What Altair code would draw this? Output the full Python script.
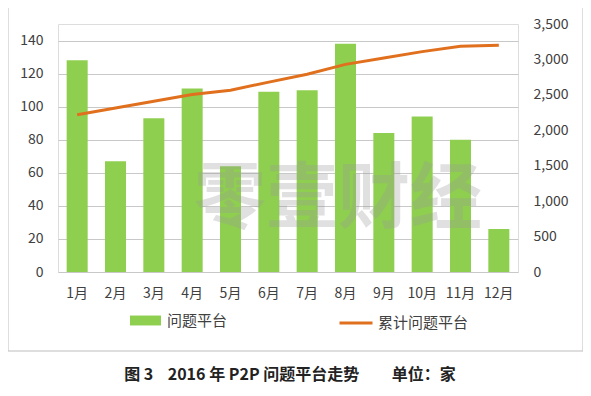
import altair as alt
import pandas as pd

months = ["1月", "2月", "3月", "4月", "5月", "6月", "7月", "8月", "9月", "10月", "11月", "12月"]
platforms = [128, 67, 93, 111, 64, 109, 110, 138, 84, 94, 80, 26]
cumulative = [2220, 2315, 2410, 2505, 2565, 2680, 2790, 2930, 3020, 3110, 3185, 3200]
left_ticks = [0, 20, 40, 60, 80, 100, 120, 140]
right_ticks = [0, 500, 1000, 1500, 2000, 2500, 3000, 3500]
bar_name = "问题平台"
line_name = "累计问题平台"
NB = "\u00a0"
caption = "图 3" + NB * 4 + "2016 年 P2P 问题平台走势" + NB * 9 + "单位：家"
watermark = "零壹财经"

df = pd.DataFrame({
    "month": months,
    "platforms": platforms,
    "cumulative": cumulative,
    "bar_s": [bar_name] * len(months),
    "line_s": [line_name] * len(months),
})

FONT = "Noto Sans CJK SC"
W, H = 460, 248

x = alt.X("month:N", sort=months,
          scale=alt.Scale(paddingInner=0.452, paddingOuter=0.226),
          axis=alt.Axis(title=None, labelAngle=0, domain=False, ticks=False,
                        labelPadding=14, labelFontSize=14, labelColor="#404040",
                        labelFont=FONT))

bars = alt.Chart(df).mark_bar(color="#8fcf4f").encode(
    x=x,
    y=alt.Y("platforms:Q",
            scale=alt.Scale(domain=[0, 150], nice=False),
            axis=alt.Axis(title=None, values=left_ticks, grid=True, gridColor="#c8c8c8",
                          domain=False, ticks=False, labelPadding=15, labelFontSize=14,
                          labelColor="#404040", labelFont=FONT)),
    fill=alt.Fill("bar_s:N",
                  scale=alt.Scale(domain=[bar_name], range=["#8fcf4f"]),
                  legend=alt.Legend(title=None, orient="none", legendX=72, legendY=281,
                                    symbolType="M-1,-0.32H1V0.32H-1Z", symbolSize=961,
                                    symbolStrokeWidth=0, symbolOpacity=1,
                                    labelFontSize=15, labelFont=FONT, labelColor="#404040",
                                    labelOffset=6)),
)

line = alt.Chart(df).mark_line(strokeWidth=3, color="#e0701e").encode(
    x=alt.X("month:N", sort=months),
    y=alt.Y("cumulative:Q",
            scale=alt.Scale(domain=[0, 3500], nice=False),
            axis=alt.Axis(title=None, orient="right", values=right_ticks, format=",.0f",
                          grid=False, domain=False, ticks=False, labelPadding=15,
                          labelFontSize=14, labelColor="#404040", labelFont=FONT)),
    stroke=alt.Stroke("line_s:N",
                      scale=alt.Scale(domain=[line_name], range=["#e0701e"]),
                      legend=alt.Legend(title=None, orient="none", legendX=280, legendY=281,
                                        symbolType="stroke", symbolSize=1089,
                                        symbolStrokeWidth=3,
                                        labelFontSize=15, labelFont=FONT, labelColor="#404040",
                                        labelOffset=4)),
)

wm = alt.Chart(pd.DataFrame({"t": [watermark]})).mark_text(
    fontSize=72, font=FONT, fontWeight="bold", color="#9a9a9a", opacity=0.3,
    align="center", baseline="middle"
).encode(text="t:N", x=alt.value(280), y=alt.value(176))

border = alt.Chart(pd.DataFrame({"a": [0]})).mark_rect(
    fill=None, stroke="#bdbdbd", strokeWidth=1, clip=False
).encode(x=alt.value(-50), x2=alt.value(525), y=alt.value(-18), y2=alt.value(327))

cap = alt.Chart(pd.DataFrame({"t": [caption]})).mark_text(
    fontSize=16, font=FONT, fontWeight="bold", color="#222222",
    align="center", baseline="middle"
).encode(text="t:N", x=alt.value(232), y=alt.value(351))

chart = alt.layer(bars, line, wm, border, cap).resolve_scale(
    y="independent", fill="independent", stroke="independent"
).properties(
    width=W, height=H,
    autosize=alt.AutoSizeParams(type="none"),
    padding={"left": 50, "top": 16, "right": 65, "bottom": 116},
).configure_view(stroke=None).configure(background="white")

chart.save("out.html", embed_options={"renderer": "svg", "actions": False})
